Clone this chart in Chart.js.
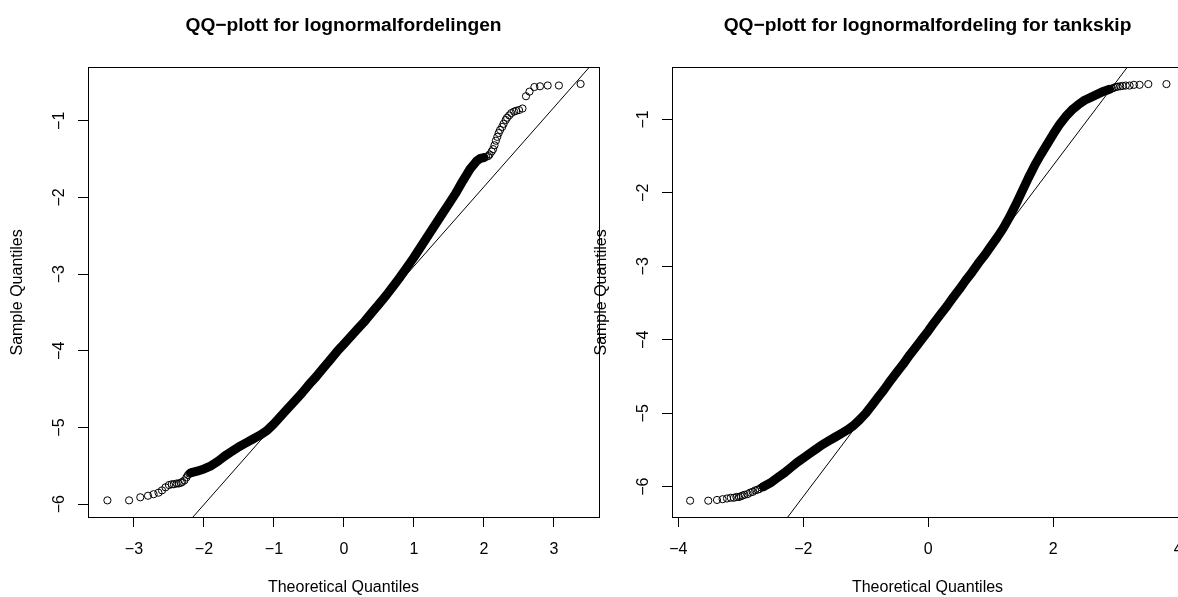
<!DOCTYPE html>
<html><head><meta charset="utf-8">
<script src="https://cdn.jsdelivr.net/npm/chart.js@4.4.1/dist/chart.umd.min.js"></script>
<style>
html,body{margin:0;padding:0;background:#fff;overflow:hidden;width:1178px;height:597px;}
#wrap{position:relative;width:1178px;height:597px;overflow:hidden;background:#fff;}
canvas{position:absolute;top:0;}
</style></head><body>
<div id="wrap">
<canvas id="c1" width="640" height="597" style="left:0px"></canvas>
<canvas id="c2" width="640" height="597" style="left:584px"></canvas>
</div>
<script>
// ---------- Left plot: QQ-plott for lognormalfordelingen ----------
const leftTitle = "QQ\u2212plott for lognormalfordelingen";
const leftLowX  = [-3.38,-3.07,-2.91,-2.80,-2.72,-2.65,-2.60,-2.55,-2.50,-2.46,-2.43,-2.39,-2.36,-2.33,-2.31,-2.28,-2.25,-2.23,-2.21,-2.19];
const leftLowY  = [-5.95,-5.95,-5.91,-5.89,-5.87,-5.85,-5.82,-5.78,-5.75,-5.74,-5.74,-5.73,-5.73,-5.72,-5.71,-5.69,-5.65,-5.62,-5.60,-5.59];
const leftBandX = [-2.19,-2.10,-2.00,-1.90,-1.80,-1.70,-1.60,-1.50,-1.40,-1.30,-1.20,-1.10,-1.00,-0.90,-0.80,-0.70,-0.60,-0.50,-0.40,-0.30,-0.20,-0.10,0.00,0.10,0.20,0.30,0.40,0.50,0.60,0.70,0.80,0.90,1.00,1.10,1.20,1.30,1.40,1.50,1.60,1.70,1.80,1.90,1.95,2.00];
const leftBandY = [-5.59,-5.57,-5.54,-5.50,-5.44,-5.37,-5.31,-5.25,-5.20,-5.15,-5.10,-5.04,-4.95,-4.85,-4.75,-4.65,-4.55,-4.44,-4.34,-4.23,-4.12,-4.01,-3.91,-3.81,-3.71,-3.61,-3.50,-3.39,-3.28,-3.16,-3.04,-2.91,-2.78,-2.64,-2.50,-2.36,-2.22,-2.08,-1.94,-1.78,-1.63,-1.52,-1.49,-1.48];
const leftHighX = [2.03,2.06,2.08,2.11,2.13,2.15,2.17,2.19,2.21,2.23,2.26,2.28,2.31,2.33,2.36,2.39,2.43,2.46,2.50,2.55,2.60,2.65,2.72,2.80,2.91,3.07,3.38];
const leftHighY = [-1.47,-1.46,-1.44,-1.40,-1.37,-1.32,-1.26,-1.21,-1.16,-1.12,-1.08,-1.04,-0.99,-0.96,-0.93,-0.90,-0.88,-0.87,-0.86,-0.84,-0.68,-0.62,-0.56,-0.55,-0.54,-0.54,-0.52];
const leftLineX = [-3.65, 3.65];
const leftLineY = [-7.713, -0.151];
const leftXTicks = [-3,-2,-1,0,1,2,3];
const leftYTicks = [-6,-5,-4,-3,-2,-1];
const leftXRange = [-3.657, 3.643];
const leftYRange = [-6.167, -0.309];

// ---------- Right plot: QQ-plott for lognormalfordeling for tankskip ----------
const rightTitle = "QQ\u2212plott for lognormalfordeling for tankskip";
const rightLowX  = [-3.81,-3.52,-3.38,-3.29,-3.22,-3.16,-3.11,-3.07,-3.03,-3.00,-2.97,-2.94,-2.89,-2.85,-2.81,-2.77,-2.73,-2.70,-2.67,-2.64];
const rightLowY  = [-6.19,-6.19,-6.18,-6.17,-6.16,-6.15,-6.15,-6.14,-6.14,-6.13,-6.12,-6.11,-6.10,-6.08,-6.07,-6.05,-6.04,-6.03,-6.01,-6.00];
const rightBandX = [-2.64,-2.53,-2.40,-2.30,-2.20,-2.10,-2.00,-1.90,-1.80,-1.70,-1.60,-1.50,-1.40,-1.30,-1.20,-1.10,-1.00,-0.90,-0.80,-0.70,-0.60,-0.50,-0.40,-0.30,-0.20,-0.10,0.00,0.10,0.20,0.30,0.40,0.50,0.60,0.70,0.80,0.90,1.00,1.10,1.20,1.30,1.40,1.50,1.60,1.70,1.80,1.90,2.00,2.10,2.20,2.30,2.40,2.50,2.60,2.70,2.80,2.90];
const rightBandY = [-6.00,-5.95,-5.87,-5.81,-5.74,-5.67,-5.61,-5.55,-5.49,-5.43,-5.38,-5.33,-5.28,-5.23,-5.17,-5.09,-5.00,-4.89,-4.78,-4.67,-4.55,-4.44,-4.33,-4.21,-4.10,-3.99,-3.88,-3.76,-3.65,-3.54,-3.42,-3.31,-3.19,-3.08,-2.96,-2.85,-2.73,-2.61,-2.48,-2.33,-2.16,-1.98,-1.80,-1.63,-1.48,-1.34,-1.20,-1.07,-0.96,-0.87,-0.80,-0.74,-0.70,-0.66,-0.62,-0.59];
const rightHighX = [2.94,2.97,3.00,3.03,3.07,3.11,3.16,3.22,3.29,3.38,3.52,3.81];
const rightHighY = [-0.58,-0.57,-0.56,-0.555,-0.55,-0.545,-0.54,-0.54,-0.53,-0.53,-0.52,-0.52];
const rightLineX = [-4.10, 4.08];
const rightLineY = [-8.50, 0.72];
const rightXTicks = [-4,-2,0,2,4];
const rightYTicks = [-6,-5,-4,-3,-2,-1];
const rightXRange = [-4.10, 4.075];
const rightYRange = [-6.412, -0.298];

const xAxisTitle = "Theoretical Quantiles";
const yAxisTitle = "Sample Quantiles";

const FONT = "'Liberation Sans', Arial, Helvetica, sans-serif";
const pts = (xs, ys) => xs.map((x, i) => ({x, y: ys[i]}));
const fmt = v => (v < 0 ? '\u2212' + Math.abs(v) : String(v));

const boxPlugin = {
  id: 'box',
  afterDraw(chart) {
    const {ctx, chartArea: a} = chart;
    ctx.save();
    ctx.strokeStyle = '#000';
    ctx.lineWidth = 1;
    const l = Math.floor(a.left) + 0.5, t = Math.floor(a.top) + 0.5;
    const r = Math.floor(a.right) + 0.5, b = Math.floor(a.bottom) + 0.5;
    ctx.strokeRect(l, t, r - l, b - t);
    ctx.restore();
  }
};

function makeChart(id, cfg) {
  const allX = cfg.low[0].concat(cfg.band[0], cfg.high[0]);
  const allY = cfg.low[1].concat(cfg.band[1], cfg.high[1]);
  return new Chart(document.getElementById(id), {
    type: 'scatter',
    data: {
      datasets: [
        { type: 'line', data: pts(cfg.line[0], cfg.line[1]), borderColor: '#000', borderWidth: 1,
          pointRadius: 0, fill: false, tension: 0, order: 0, clip: 0 },
        { type: 'scatter', data: pts(allX, allY), pointStyle: 'circle', pointRadius: 3.6,
          borderColor: '#000', backgroundColor: 'rgba(0,0,0,0)', borderWidth: 1, order: 1 },
        { type: 'line', data: pts(cfg.band[0], cfg.band[1]), borderColor: '#000', borderWidth: 9,
          borderJoinStyle: 'round', borderCapStyle: 'round', pointRadius: 0, fill: false, tension: 0, order: 2 }
      ]
    },
    options: {
      responsive: false,
      animation: false,
      events: [],
      layout: { padding: { left: 0, right: 41, top: 0, bottom: 0 } },
      plugins: {
        legend: { display: false },
        tooltip: { enabled: false },
        title: {
          display: true, text: cfg.title, fullSize: false, color: '#000',
          font: { family: FONT, size: 19.2, weight: 'bold' },
          padding: { top: 14.5, bottom: 30.24 }
        }
      },
      scales: {
        x: {
          type: 'linear', position: 'bottom', min: cfg.xr[0], max: cfg.xr[1],
          afterBuildTicks: s => { s.ticks = cfg.xt.map(v => ({ value: v })); },
          afterFit: s => { s.height = 80; },
          ticks: { color: '#000', font: { family: FONT, size: 16 }, padding: 12.5, maxRotation: 0,
                   autoSkip: false, callback: fmt },
          grid: { display: true, drawOnChartArea: false, drawTicks: true, tickLength: 10, color: '#000', lineWidth: 1 },
          border: { display: true, color: '#000', width: 1 },
          title: { display: true, text: xAxisTitle, color: '#000', font: { family: FONT, size: 16 }, padding: { top: 0, bottom: 0 } }
        },
        y: {
          type: 'linear', position: 'left', min: cfg.yr[0], max: cfg.yr[1],
          afterBuildTicks: s => { s.ticks = cfg.yt.map(v => ({ value: v })); },
          afterFit: s => { s.width = 88; },
          ticks: { color: '#000', font: { family: FONT, size: 16 }, padding: 9, minRotation: 90, maxRotation: 90,
                   crossAlign: 'center', autoSkip: false, callback: fmt },
          grid: { display: true, drawOnChartArea: false, drawTicks: true, tickLength: 10, color: '#000', lineWidth: 1 },
          border: { display: true, color: '#000', width: 1 },
          title: { display: true, text: yAxisTitle, color: '#000', font: { family: FONT, size: 16 }, padding: { top: 8, bottom: 0 } }
        }
      }
    },
    plugins: [boxPlugin]
  });
}

makeChart('c1', {
  title: leftTitle,
  low: [leftLowX, leftLowY], band: [leftBandX, leftBandY], high: [leftHighX, leftHighY],
  line: [leftLineX, leftLineY], xt: leftXTicks, yt: leftYTicks, xr: leftXRange, yr: leftYRange
});
makeChart('c2', {
  title: rightTitle,
  low: [rightLowX, rightLowY], band: [rightBandX, rightBandY], high: [rightHighX, rightHighY],
  line: [rightLineX, rightLineY], xt: rightXTicks, yt: rightYTicks, xr: rightXRange, yr: rightYRange
});
</script>
</body></html>
